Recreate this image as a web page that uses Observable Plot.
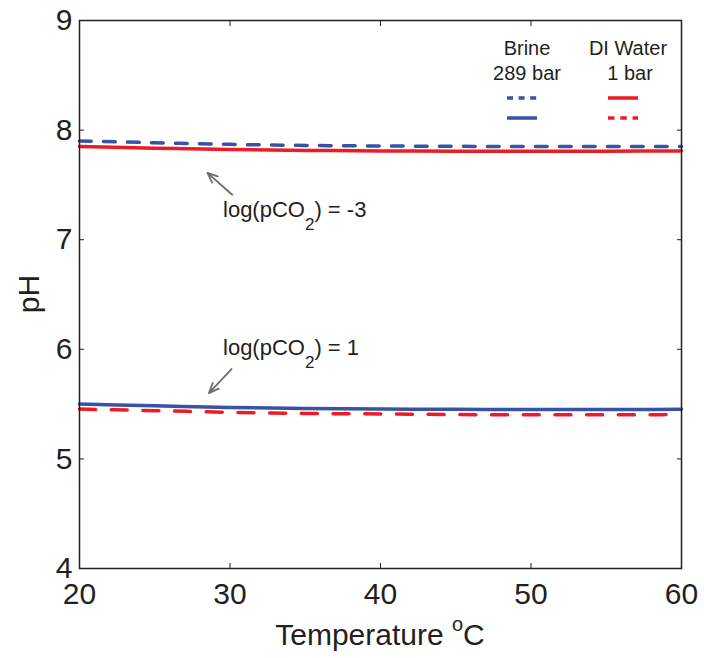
<!DOCTYPE html>
<html><head><meta charset="utf-8">
<script src="https://cdn.jsdelivr.net/npm/d3@7"></script>
<script src="https://cdn.jsdelivr.net/npm/@observablehq/plot@0.6"></script>
<style>body{margin:0;background:#fff}svg{display:block}</style>
</head><body><div id="chart"></div>
<script>
// ---- data ----
const temperature = [20, 25, 30, 35, 40, 45, 50, 55, 60];
const brineLowCO2 = [7.90, 7.885, 7.870, 7.860, 7.855, 7.852, 7.850, 7.850, 7.850]; // log(pCO2)=-3, brine 289 bar
const diLowCO2    = [7.85, 7.835, 7.822, 7.815, 7.810, 7.808, 7.807, 7.808, 7.810]; // log(pCO2)=-3, DI water 1 bar
const brineHighCO2 = [5.50, 5.485, 5.470, 5.460, 5.455, 5.452, 5.450, 5.450, 5.452]; // log(pCO2)=1, brine
const diHighCO2    = [5.455, 5.440, 5.425, 5.415, 5.410, 5.405, 5.402, 5.402, 5.405]; // log(pCO2)=1, DI water
const xTicks = [20, 30, 40, 50, 60];
const yTicks = [4, 5, 6, 7, 8, 9];
const annotations = [
  {value: "-3", t: 29.57, ph: 7.203, t1: 30.15, ph1: 7.41, t2: 28.5, ph2: 7.61},
  {value: "1",  t: 29.57, ph: 5.943, t1: 30.1,  ph1: 5.82, t2: 28.6, ph2: 5.60}
];
const legendGroups = [
  {title: "Brine", sub: "289 bar"},
  {title: "DI Water", sub: "1 bar"}
];

// ---- styles ----
const W = 704, H = 658, mL = 79, mR = 23, mT = 20, mB = 90;
const ink = "#231f20", blue = "#3953a4", red = "#ed1c24", grey = "#6d6e71";
const font = "Liberation Sans, Arial, Helvetica, sans-serif";
const series = [
  {values: brineLowCO2, color: blue, dash: "11.7,12.3", legendDash: "6,5.6", col: 0, row: 0},
  {values: diLowCO2, color: red, dash: null, legendDash: null, col: 1, row: 0},
  {values: brineHighCO2, color: blue, dash: null, legendDash: null, col: 0, row: 1},
  {values: diHighCO2, color: red, dash: "16,15.7", legendDash: "6.5,5.8", col: 1, row: 1}
];

const chart = Plot.plot({
  width: W, height: H,
  marginLeft: mL, marginRight: mR, marginTop: mT, marginBottom: mB,
  style: {fontFamily: font, color: ink, background: "#fff", overflow: "visible"},
  x: {domain: [20, 60]},
  y: {domain: [4, 9]},
  marks: [
    ...series.map(s => Plot.line(temperature, {
      x: d => d, y: (d, i) => s.values[i],
      stroke: s.color, strokeWidth: 3.5, strokeDasharray: s.dash, curve: "monotone-x"
    })),
    Plot.arrow(annotations, {x1: "t1", y1: "ph1", x2: "t2", y2: "ph2",
      stroke: grey, strokeWidth: 1.8, headLength: 9, headAngle: 45}),
    Plot.frame({stroke: ink, strokeWidth: 1.5}),
    Plot.axisX({ticks: xTicks, tickSize: 0, tickPadding: 14, fontSize: 30, label: null, fill: ink, tickFormat: d3.format("d")}),
    Plot.axisY({ticks: yTicks, tickSize: 0, tickPadding: 7, fontSize: 30, label: null, fill: ink, tickFormat: d3.format("d")}),
    Plot.axisX({anchor: "bottom", ticks: xTicks, tickSize: -5, tickFormat: () => "", label: null, stroke: ink}),
    Plot.axisX({anchor: "top", ticks: xTicks, tickSize: -5, tickFormat: () => "", label: null, stroke: ink}),
    Plot.axisY({anchor: "left", ticks: yTicks, tickSize: -5, tickFormat: () => "", label: null, stroke: ink}),
    Plot.axisY({anchor: "right", ticks: yTicks, tickSize: -5, tickFormat: () => "", label: null, stroke: ink})
  ]
});
document.getElementById("chart").append(chart);

const sx = chart.scale("x"), sy = chart.scale("y");
const svg = d3.select(chart);
const g = svg.append("g").attr("font-family", font).attr("fill", ink).attr("text-anchor", "start");

// axis labels
const xl = g.append("text").attr("x", sx.apply(40)).attr("y", H - 13)
  .attr("text-anchor", "middle").attr("font-size", 30);
xl.append("tspan").text("Temperature ");
xl.append("tspan").attr("dy", -14).attr("font-size", 20).text("o");
xl.append("tspan").attr("dy", 14).text("C");

g.append("text").attr("transform", `translate(39,${(sy.apply(4) + sy.apply(9)) / 2}) rotate(-90)`)
  .attr("text-anchor", "middle").attr("font-size", 30).text("pH");

// annotations
for (const a of annotations) {
  const t = g.append("text").attr("x", sx.apply(a.t)).attr("y", sy.apply(a.ph))
    .attr("text-anchor", "start").attr("font-size", 22);
  t.append("tspan").text("log(pCO");
  t.append("tspan").attr("dy", 13).attr("font-size", 17).text("2");
  t.append("tspan").attr("dy", -13).text(`) = ${a.value}`);
}

// legend
const frameRight = W - mR;
const colCenters = [frameRight - 154, frameRight - 53];
legendGroups.forEach((lg, i) => {
  g.append("text").attr("x", colCenters[i]).attr("y", mT + 35).attr("text-anchor", "middle")
    .attr("font-size", 20).text(lg.title);
  g.append("text").attr("x", colCenters[i] + (i ? 2 : 0)).attr("y", mT + 60).attr("text-anchor", "middle")
    .attr("font-size", 20).text(lg.sub);
});
series.forEach(s => {
  const cx = colCenters[s.col] - 5;
  const y = mT + 78 + s.row * 20;
  g.append("line").attr("x1", cx - 15).attr("x2", cx + 15).attr("y1", y).attr("y2", y)
    .attr("stroke", s.color).attr("stroke-width", 3.5)
    .attr("stroke-dasharray", s.legendDash);
});
</script>
</body></html>
